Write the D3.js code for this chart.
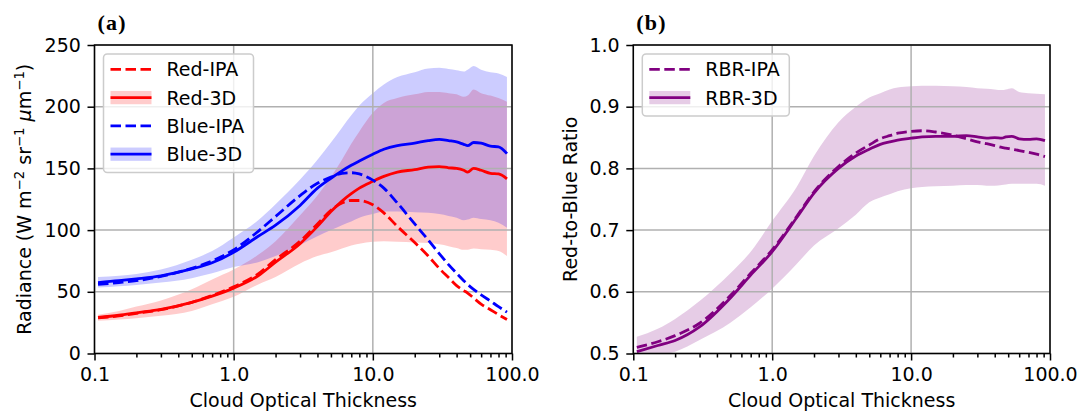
<!DOCTYPE html>
<html>
<head>
<meta charset="utf-8">
<script src="https://cdnjs.cloudflare.com/ajax/libs/d3/7.8.5/d3.min.js"></script>
<style>
  body { margin: 0; background: #fff; }
  svg { display: block; font-family: "DejaVu Sans", sans-serif; }
</style>
</head>
<body>
<script>
  // cloud optical thickness sample points, shared by every curve
  let cot = [0.106, 0.15, 0.2, 0.3, 0.5, 0.7, 1.0, 1.5, 2, 3, 4, 5, 6, 7, 8, 10, 12, 15, 20, 25, 30, 35, 40, 45, 48, 53, 60, 70, 80, 92];

  // panel (a) radiance
  let redIPA    = [28.8, 30.5, 32.5, 35.5, 41.5, 47, 54, 64.5, 76, 91, 105, 116, 122, 124, 124, 120.5, 114, 103, 90, 79, 69, 61.5, 55, 51, 49, 45, 40, 35.5, 31.5, 27.5];
  let red3D     = [29.3, 31, 33, 35.8, 41.5, 46.5, 53, 63, 74, 89, 103, 115, 123.5, 129.5, 134, 139.5, 143.5, 147, 149, 151, 151.5, 150.5, 150, 148.5, 147, 150, 148.5, 146, 145.5, 141.5];
  let red3DLow  = [26.5, 27.5, 28.5, 30.5, 34.5, 40, 46, 56, 62, 73, 79, 82, 85, 87.5, 89, 90.5, 91, 90.5, 90, 89.5, 88.5, 87, 85.5, 84, 84, 85, 84.5, 84, 83, 79];
  let red3DHigh = [31.5, 34.5, 38, 43, 52, 60, 68, 80, 91, 112, 128, 143, 157, 170, 180, 195, 203, 207, 210, 212, 212, 211, 210, 208, 209, 214, 211, 209, 207, 204];
  let blueIPA    = [56, 57.5, 59, 62.5, 69, 75, 84, 99, 111, 128, 138, 143, 146, 146.5, 145.5, 140.5, 134, 122, 105, 92, 81, 72, 65, 59, 56, 52, 47.5, 42.5, 38, 33.5];
  let blue3D     = [57.5, 59, 60.5, 63, 68.5, 73.5, 82, 95, 104, 120, 134, 142, 148, 152.5, 156, 161.5, 165.5, 168.5, 170.5, 172.5, 173.5, 172.5, 171.5, 169.5, 168.5, 171, 170.5, 168, 167.5, 162];
  let blue3DLow  = [53.5, 54.5, 55.5, 57.5, 61, 65, 70, 74, 79, 88, 95, 100, 104, 107, 110, 113, 115, 115, 114.5, 114, 113, 111.5, 110, 108, 108.5, 110, 109, 108, 106, 102];
  let blue3DHigh = [62, 63, 64.5, 68, 76, 83, 94, 108, 121, 141, 157, 171, 183, 193, 201, 211, 218, 224, 228, 231, 231.5, 230.5, 229.5, 228.5, 230, 233, 230, 228, 227, 224];

  // panel (b) red-to-blue ratio
  let rbrIPA    = [0.51, 0.519, 0.529, 0.549, 0.594, 0.63, 0.668, 0.722, 0.762, 0.803, 0.825, 0.838, 0.848, 0.853, 0.857, 0.86, 0.861, 0.859, 0.854, 0.848, 0.843, 0.84, 0.837, 0.834, 0.833, 0.831, 0.829, 0.826, 0.823, 0.819];
  let rbr3D     = [0.503, 0.513, 0.521, 0.543, 0.59, 0.627, 0.665, 0.72, 0.76, 0.8, 0.82, 0.831, 0.839, 0.843, 0.846, 0.849, 0.851, 0.852, 0.852, 0.853, 0.851, 0.849, 0.85, 0.849, 0.851, 0.852, 0.848, 0.847, 0.848, 0.845];
  let rbr3DLow  = [0.49, 0.497, 0.503, 0.522, 0.55, 0.575, 0.605, 0.645, 0.675, 0.703, 0.725, 0.745, 0.753, 0.758, 0.763, 0.768, 0.77, 0.771, 0.772, 0.773, 0.773, 0.772, 0.772, 0.773, 0.774, 0.775, 0.775, 0.775, 0.775, 0.772];
  let rbr3DHigh = [0.527, 0.54, 0.556, 0.585, 0.63, 0.665, 0.715, 0.77, 0.82, 0.875, 0.9, 0.915, 0.922, 0.928, 0.931, 0.933, 0.934, 0.934, 0.933, 0.932, 0.93, 0.929, 0.928, 0.927, 0.928, 0.93, 0.924, 0.922, 0.921, 0.92];

  // ticks
  let xTicks = [0.1, 1, 10, 100];
  let xTickLabels = ["0.1", "1.0", "10.0", "100.0"];
  let radTicks = [0, 50, 100, 150, 200, 250];
  let rbrTicks = [0.5, 0.6, 0.7, 0.8, 0.9, 1.0];
  let rbrTickLabels = ["0.5", "0.6", "0.7", "0.8", "0.9", "1.0"];

  let width = 1081;
  let height = 412;
  let plotTop = 45, plotBottom = 353.5;
  let fontSize = 19;

  let svg = d3.select('body').append('svg')
      .attr('width', width)
      .attr('height', height);

  function drawPanel(cfg) {
    let x = d3.scaleLog().domain([0.1, 100]).range([cfg.left, cfg.right]);
    let y = d3.scaleLinear().domain(cfg.yDomain).range([plotBottom, plotTop]);
    let g = svg.append('g');

    g.append('clipPath').attr('id', 'clip-' + cfg.id)
      .append('rect')
        .attr('x', cfg.left).attr('y', plotTop)
        .attr('width', cfg.right - cfg.left).attr('height', plotBottom - plotTop);

    // shaded spread of the 3D results
    cfg.bands.forEach(function(b) {
      let area = d3.area()
          .x(function(d, i) { return x(cot[i]); })
          .y0(function(d, i) { return y(b.low[i]); })
          .y1(function(d, i) { return y(b.high[i]); })
          .curve(d3.curveMonotoneX);
      g.append('path')
          .attr('d', area(cot))
          .attr('fill', b.color)
          .attr('fill-opacity', 0.2)
          .attr('clip-path', 'url(#clip-' + cfg.id + ')');
    });

    // grid
    g.selectAll('.vgrid').data(xTicks).enter().append('line')
        .attr('x1', function(d) { return x(d); }).attr('x2', function(d) { return x(d); })
        .attr('y1', plotTop).attr('y2', plotBottom)
        .attr('stroke', '#b0b0b0').attr('stroke-width', 1.5);
    g.selectAll('.hgrid').data(cfg.yTicks).enter().append('line')
        .attr('x1', cfg.left).attr('x2', cfg.right)
        .attr('y1', function(d) { return y(d); }).attr('y2', function(d) { return y(d); })
        .attr('stroke', '#b0b0b0').attr('stroke-width', 1.5);

    // curves
    cfg.lines.forEach(function(l) {
      let line = d3.line()
          .x(function(d, i) { return x(cot[i]); })
          .y(function(d) { return y(d); })
          .curve(d3.curveMonotoneX);
      g.append('path')
          .attr('d', line(l.values))
          .attr('fill', 'none')
          .attr('stroke', l.color)
          .attr('stroke-width', 2.8)
          .attr('stroke-dasharray', l.dash ? '10.5,4.5' : null)
          .attr('clip-path', 'url(#clip-' + cfg.id + ')');
    });

    // axes
    let minor = x.ticks().filter(function(t) { return xTicks.indexOf(t) < 0; });
    g.append('g')
        .attr('transform', 'translate(0,' + plotBottom + ')')
        .call(d3.axisBottom(x).tickValues(minor).tickFormat('').tickSize(4))
        .call(function(a) { a.select('.domain').remove(); });
    let xAxis = g.append('g')
        .attr('transform', 'translate(0,' + plotBottom + ')')
        .call(d3.axisBottom(x).tickValues(xTicks)
          .tickFormat(function(d, i) { return xTickLabels[i]; })
          .tickSize(7).tickPadding(6.7));
    let yAxis = g.append('g')
        .attr('transform', 'translate(' + cfg.left + ',0)')
        .call(d3.axisLeft(y).tickValues(cfg.yTicks)
          .tickFormat(function(d, i) { return cfg.yTickLabels[i]; })
          .tickSize(7).tickPadding(6.7));
    [xAxis, yAxis].forEach(function(a) {
      a.select('.domain').remove();
      a.selectAll('text').attr('font-size', fontSize).attr('fill', '#000')
        .attr('font-family', '"DejaVu Sans", sans-serif');
    });
    g.selectAll('.tick line').attr('stroke', '#000').attr('stroke-width', 1.5);

    // frame
    g.append('rect')
        .attr('x', cfg.left).attr('y', plotTop)
        .attr('width', cfg.right - cfg.left).attr('height', plotBottom - plotTop)
        .attr('fill', 'none').attr('stroke', '#000').attr('stroke-width', 1.5);

    // axis labels
    g.append('text')
        .attr('x', (cfg.left + cfg.right) / 2).attr('y', 407)
        .attr('text-anchor', 'middle').attr('font-size', fontSize)
        .text('Cloud Optical Thickness');
    let yl = g.append('text')
        .attr('transform', 'translate(' + cfg.yLabelX + ',' + (plotTop + plotBottom) / 2 + ') rotate(-90)')
        .attr('text-anchor', 'middle').attr('font-size', fontSize);
    cfg.yLabel(yl);

    // panel letter
    g.append('text')
        .attr('x', cfg.left + 3).attr('y', 30)
        .attr('font-family', '"Liberation Serif", "Times New Roman", serif')
        .attr('font-weight', 'bold').attr('font-size', 22)
        .attr('letter-spacing', 1.2)
        .text(cfg.letter);

    // legend
    let lx = cfg.left + 9, ly = plotTop + 9, rowH = 28.3;
    let boxH = 15.3 + (cfg.legend.length - 1) * rowH + 18.4;
    g.append('rect')
        .attr('x', lx).attr('y', ly).attr('width', cfg.legendW).attr('height', boxH)
        .attr('rx', 3.8).attr('ry', 3.8)
        .attr('fill', '#fff').attr('fill-opacity', 0.8)
        .attr('stroke', '#cccccc').attr('stroke-width', 1.5);
    cfg.legend.forEach(function(e, i) {
      let cy = ly + 15.3 + i * rowH;
      if (e.band) {
        g.append('rect')
            .attr('x', lx + 7).attr('y', cy - 6.65).attr('width', 41).attr('height', 13.3)
            .attr('fill', e.color).attr('fill-opacity', 0.2);
      }
      g.append('line')
          .attr('x1', lx + 7).attr('x2', lx + 48).attr('y1', cy).attr('y2', cy)
          .attr('stroke', e.color).attr('stroke-width', 2.8)
          .attr('stroke-dasharray', e.dash ? '10.5,4.5' : null);
      g.append('text')
          .attr('x', lx + 63).attr('y', cy + 7)
          .attr('font-size', fontSize)
          .text(e.label);
    });
  }

  drawPanel({
    id: 'a', letter: '(a)', left: 94.5, right: 512,
    yDomain: [0, 250], yTicks: radTicks, yTickLabels: radTicks.map(String),
    yLabelX: 31,
    yLabel: function(t) {
      t.append('tspan').text('Radiance (W m');
      t.append('tspan').attr('dy', -7.5).attr('font-size', 13.3).text('\u22122');
      t.append('tspan').attr('dy', 7.5).text(' sr');
      t.append('tspan').attr('dy', -7.5).attr('font-size', 13.3).text('\u22121');
      t.append('tspan').attr('dy', 7.5).text(' ');
      t.append('tspan').attr('font-style', 'italic').text('\u03bc');
      t.append('tspan').text('m');
      t.append('tspan').attr('dy', -7.5).attr('font-size', 13.3).text('\u22121');
      t.append('tspan').attr('dy', 7.5).text(')');
    },
    bands: [
      {low: red3DLow, high: red3DHigh, color: '#ff0000'},
      {low: blue3DLow, high: blue3DHigh, color: '#0000ff'}
    ],
    lines: [
      {values: redIPA, color: '#ff0000', dash: true},
      {values: red3D, color: '#ff0000'},
      {values: blueIPA, color: '#0000ff', dash: true},
      {values: blue3D, color: '#0000ff'}
    ],
    legendW: 150,
    legend: [
      {label: 'Red-IPA', color: '#ff0000', dash: true},
      {label: 'Red-3D', color: '#ff0000', band: true},
      {label: 'Blue-IPA', color: '#0000ff', dash: true},
      {label: 'Blue-3D', color: '#0000ff', band: true}
    ]
  });

  drawPanel({
    id: 'b', letter: '(b)', left: 633.3, right: 1050,
    yDomain: [0.5, 1.0], yTicks: rbrTicks, yTickLabels: rbrTickLabels,
    yLabelX: 577,
    yLabel: function(t) { t.text('Red-to-Blue Ratio'); },
    bands: [
      {low: rbr3DLow, high: rbr3DHigh, color: '#800080'}
    ],
    lines: [
      {values: rbrIPA, color: '#800080', dash: true},
      {values: rbr3D, color: '#800080'}
    ],
    legendW: 147,
    legend: [
      {label: 'RBR-IPA', color: '#800080', dash: true},
      {label: 'RBR-3D', color: '#800080', band: true}
    ]
  });
</script>
</body>
</html>
